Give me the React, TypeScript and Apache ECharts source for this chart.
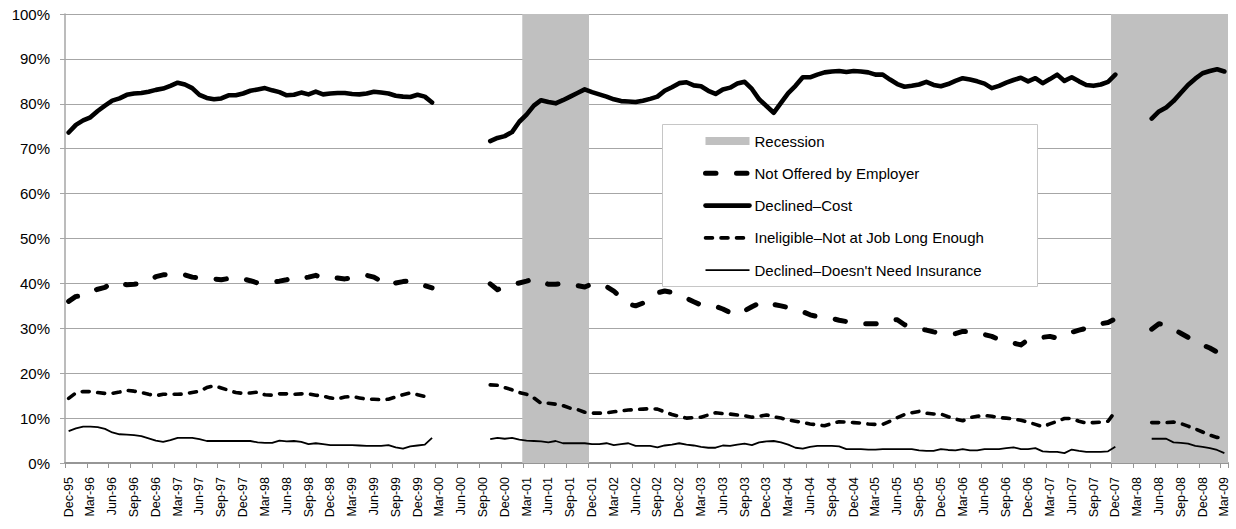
import { useEffect, useRef } from 'react';
import * as echarts from 'echarts';

const MONTH_NAMES = ['Jan', 'Feb', 'Mar', 'Apr', 'May', 'Jun', 'Jul', 'Aug', 'Sep', 'Oct', 'Nov', 'Dec'];
const FIRST_YEAR = 1995;
const FIRST_MONTH_INDEX = 11; // Dec
const LAST_MONTH = 'Mar-09';

function buildMonths(): string[] {
  const out: string[] = [];
  let y = FIRST_YEAR;
  let m = FIRST_MONTH_INDEX;
  for (let guard = 0; guard < 400; guard++) {
    const label = `${MONTH_NAMES[m]}-${String(y % 100).padStart(2, '0')}`;
    out.push(label);
    if (label === LAST_MONTH) break;
    m++;
    if (m > 11) { m = 0; y++; }
  }
  return out;
}
const categories = buildMonths();

// each series comes in three survey segments, starting at these months
const segmentStarts = ['Dec-95', 'Oct-00', 'May-08'];

const recessions: [string, string][] = [['Mar-01', 'Nov-01'], ['Dec-07', 'Mar-09']];

const yTicks = [0, 10, 20, 30, 40, 50, 60, 70, 80, 90, 100];

// ---- Declined–Cost (%)
const declinedCost1 = [
  73.6, 75.3, 76.3, 77.0, 78.4, 79.6, 80.7, 81.2, 82.0, 82.3,
  82.4, 82.7, 83.1, 83.4, 84.0, 84.7, 84.3, 83.5, 82.0, 81.3,
  81.0, 81.2, 81.9, 81.9, 82.3, 82.9, 83.2, 83.5, 83.0, 82.6,
  81.9, 82.0, 82.5, 82.1, 82.7, 82.1, 82.3, 82.4, 82.4, 82.2,
  82.1, 82.3, 82.7, 82.5, 82.3, 81.8, 81.6, 81.5, 82.0, 81.6,
  80.3,
];
const declinedCost2 = [
  71.7, 72.4, 72.8, 73.7, 76.0, 77.6, 79.6, 80.8, 80.4, 80.1,
  80.8, 81.6, 82.4, 83.2, 82.6, 82.1, 81.6, 81.0, 80.6, 80.5,
  80.4, 80.7, 81.1, 81.6, 82.9, 83.7, 84.6, 84.8, 84.1, 83.9,
  82.9, 82.2, 83.2, 83.6, 84.5, 84.9, 83.3, 81.0, 79.5, 78.0,
  80.2, 82.4, 84.0, 85.9, 85.9, 86.5, 87.0, 87.2, 87.3, 87.1,
  87.3, 87.2, 87.0, 86.5, 86.5, 85.4, 84.4, 83.8, 84.0, 84.3,
  84.9, 84.2, 83.9, 84.4, 85.1, 85.7, 85.4, 85.0, 84.5, 83.5,
  84.0, 84.7, 85.3, 85.8, 85.0, 85.7, 84.6, 85.5, 86.5, 85.1,
  85.9, 85.0, 84.2, 84.0, 84.3, 84.9, 86.5,
];
const declinedCost3 = [76.7, 78.3, 79.2, 80.6, 82.4, 84.2, 85.6, 86.8, 87.3, 87.7, 87.2];

// ---- Not Offered by Employer (%)
const notOffered1 = [
  36.0, 37.1, 37.2, 38.2, 38.7, 39.1, 40.2, 40.0, 39.7, 39.8,
  40.0, 40.5, 41.5, 41.9, 42.0, 42.2, 41.9, 41.4, 41.2, 41.2,
  41.0, 40.8, 41.1, 41.4, 41.0, 40.6, 40.1, 40.0, 40.3, 40.5,
  40.8, 41.4, 41.1, 41.4, 41.8, 41.2, 41.4, 41.2, 41.0, 41.3,
  41.7, 41.8, 41.4, 40.5, 39.5, 40.1, 40.4, 40.6, 40.2, 39.5,
  39.0,
];
const notOffered2 = [
  39.9, 38.6, 39.3, 39.7, 40.1, 40.5, 41.0, 40.5, 39.8, 39.8,
  40.0, 39.9, 39.5, 39.2, 39.9, 39.9, 39.3, 38.3, 36.8, 35.4,
  35.0, 35.6, 36.9, 37.9, 38.3, 38.0, 37.4, 36.7, 35.9, 35.2,
  34.9, 34.9, 34.3, 33.5, 33.0, 33.9, 34.8, 35.6, 36.0, 35.3,
  35.0, 34.6, 34.2, 33.7, 33.0, 32.6, 32.4, 32.2, 31.8, 31.5,
  31.2, 31.0, 31.0, 31.0, 31.3, 32.0, 31.9, 30.8, 30.1, 29.8,
  29.6, 29.2, 28.9, 28.9, 28.8, 29.3, 29.3, 29.1, 28.6, 28.2,
  27.5, 27.1, 26.7, 26.3, 27.5, 27.9, 28.0, 28.2, 27.8, 28.6,
  29.1, 29.6, 30.0, 30.8, 31.0, 31.3, 32.1,
];
const notOffered3 = [29.8, 31.0, 30.8, 29.8, 28.9, 28.0, 27.0, 26.3, 25.6, 24.7, 23.9];

// ---- Ineligible–Not at Job Long Enough (%)
const ineligible1 = [
  14.4, 15.6, 15.9, 15.9, 15.7, 15.5, 15.5, 15.8, 16.2, 16.0,
  15.7, 15.3, 15.0, 15.3, 15.3, 15.3, 15.4, 15.7, 16.0, 16.8,
  17.2, 16.7, 16.2, 15.7, 15.5, 15.6, 15.8, 15.2, 15.1, 15.4,
  15.4, 15.3, 15.4, 15.4, 15.1, 14.9, 14.5, 14.3, 14.7, 14.8,
  14.5, 14.2, 14.2, 14.1, 14.2, 14.7, 15.2, 15.6, 15.2, 14.8,
  15.0,
];
const ineligible2 = [
  17.4, 17.3, 16.8, 16.3, 15.7, 15.3, 14.5, 13.3, 13.3, 13.1,
  12.8, 12.2, 11.9, 11.3, 11.1, 11.1, 11.2, 11.4, 11.6, 11.8,
  11.9, 12.0, 12.1, 12.0, 11.4, 10.8, 10.4, 10.0, 10.1, 10.2,
  10.7, 11.2, 11.0, 10.9, 10.7, 10.5, 10.2, 10.4, 10.7, 10.3,
  10.0, 9.6, 9.3, 9.0, 8.7, 8.5, 8.3, 8.8, 9.2, 9.1,
  9.0, 8.9, 8.7, 8.6, 8.6, 9.3, 10.1, 10.8, 11.2, 11.5,
  11.1, 10.9, 10.9, 10.3, 9.8, 9.4, 10.1, 10.4, 10.6, 10.4,
  10.1, 10.0, 9.8, 9.5, 9.1, 8.6, 8.1, 8.7, 9.3, 9.9,
  9.9, 9.3, 8.9, 9.0, 9.1, 9.3, 11.5,
];
const ineligible3 = [9.0, 9.0, 9.0, 9.1, 8.8, 8.2, 7.6, 6.9, 6.2, 5.7, 5.6];

// ---- Declined–Doesn't Need Insurance (%)
const noNeed1 = [
  7.1, 7.7, 8.1, 8.1, 8.0, 7.6, 6.8, 6.4, 6.3, 6.2,
  6.0, 5.5, 5.0, 4.7, 5.1, 5.6, 5.6, 5.6, 5.3, 4.9,
  4.9, 4.9, 4.9, 4.9, 4.9, 4.9, 4.6, 4.5, 4.5, 5.0,
  4.8, 4.9, 4.7, 4.2, 4.4, 4.2, 4.0, 4.0, 4.0, 4.0,
  3.9, 3.8, 3.8, 3.8, 4.0, 3.5, 3.2, 3.7, 3.9, 4.1,
  5.6,
];
const noNeed2 = [
  5.3, 5.6, 5.4, 5.6, 5.2, 5.0, 4.9, 4.8, 4.6, 4.9,
  4.4, 4.4, 4.4, 4.4, 4.2, 4.2, 4.4, 4.0, 4.2, 4.4,
  3.8, 3.8, 3.8, 3.5, 3.9, 4.1, 4.4, 4.1, 3.9, 3.6,
  3.4, 3.4, 3.9, 3.8, 4.1, 4.3, 4.0, 4.6, 4.8, 4.9,
  4.6, 4.1, 3.4, 3.2, 3.6, 3.8, 3.8, 3.8, 3.7, 3.1,
  3.1, 3.1, 3.0, 3.0, 3.1, 3.1, 3.1, 3.1, 3.1, 2.8,
  2.7, 2.7, 3.1, 2.9, 2.8, 3.1, 2.8, 2.8, 3.1, 3.1,
  3.1, 3.3, 3.5, 3.1, 3.1, 3.3, 2.6, 2.5, 2.5, 2.2,
  3.0, 2.7, 2.5, 2.5, 2.5, 2.6, 3.6,
];
const noNeed3 = [5.4, 5.4, 5.4, 4.6, 4.5, 4.3, 3.8, 3.6, 3.3, 2.9, 2.2];

function assemble(segs: number[][]): (number | null)[] {
  const arr: (number | null)[] = categories.map(() => null);
  segs.forEach((seg, k) => {
    const start = categories.indexOf(segmentStarts[k]);
    seg.forEach((v, i) => { arr[start + i] = v; });
  });
  return arr;
}

const recessionData = categories.map((_, i) => {
  const inside = recessions.some(([a, b]) => i >= categories.indexOf(a) && i <= categories.indexOf(b));
  return inside ? 100 : null;
});

const FONT = "'Liberation Sans', Arial, sans-serif";
const GRID_GREY = '#a6a6a6';
const SHADE = '#c0c0c0';

const styles = {
  notOffered: { color: '#000', width: 5, type: [10.5, 20.5] as number[], cap: 'round', join: 'round' },
  cost: { color: '#000', width: 4.6, cap: 'round', join: 'round' },
  ineligible: { color: '#000', width: 3.6, type: [7, 8.5] as number[], cap: 'round', join: 'round' },
  noNeed: { color: '#000', width: 1.8, join: 'round' },
};

const hiddenSymbol = { color: 'transparent', opacity: 0, borderWidth: 0 };

export default function App() {
  const ref = useRef<HTMLDivElement>(null);

  useEffect(() => {
    if (!ref.current) return;
    const chart = echarts.init(ref.current, undefined, { renderer: 'svg' });
    chart.setOption({
      animation: false,
      backgroundColor: '#ffffff',
      textStyle: { fontFamily: FONT },
      grid: { left: 65, right: 8, top: 14, bottom: 66, containLabel: false },
      legend: {
        orient: 'vertical',
        left: 703,
        top: 133.5,
        padding: 0,
        itemWidth: 44,
        itemHeight: 8,
        itemGap: 17.3,
        selectedMode: false,
        z: 10,
        textStyle: { fontSize: 15, color: '#000', fontFamily: FONT },
        data: [
          { name: 'Recession', icon: 'rect', itemStyle: { color: SHADE, borderWidth: 0 } },
          { name: 'Not Offered by Employer', lineStyle: styles.notOffered, itemStyle: hiddenSymbol },
          { name: 'Declined–Cost', lineStyle: styles.cost, itemStyle: hiddenSymbol },
          { name: 'Ineligible–Not at Job Long Enough', lineStyle: styles.ineligible, itemStyle: hiddenSymbol },
          { name: "Declined–Doesn't Need Insurance", lineStyle: styles.noNeed, itemStyle: hiddenSymbol },
        ],
      },
      graphic: [
        {
          type: 'rect',
          z: 8,
          shape: { x: 662.5, y: 124.5, width: 375, height: 162 },
          style: { fill: '#ffffff', stroke: '#c6c6c6', lineWidth: 1 },
        },
      ],
      xAxis: {
        type: 'category',
        data: categories,
        boundaryGap: true,
        axisLine: { show: true, lineStyle: { color: '#969696', width: 2 } },
        axisTick: { show: true, interval: 2, length: 5, lineStyle: { color: '#969696', width: 1 } },
        axisLabel: {
          interval: 2,
          rotate: 90,
          margin: 14,
          fontSize: 12.5,
          color: '#000',
          fontFamily: FONT,
        },
        splitLine: { show: false },
      },
      yAxis: {
        type: 'value',
        min: yTicks[0],
        max: yTicks[yTicks.length - 1],
        interval: yTicks[1] - yTicks[0],
        axisLine: { show: true, lineStyle: { color: GRID_GREY, width: 1.5 } },
        axisTick: { show: true, length: 5, lineStyle: { color: GRID_GREY } },
        axisLabel: { formatter: '{value}%', fontSize: 15, color: '#000', margin: 15, fontFamily: FONT },
        splitLine: { show: true, lineStyle: { color: GRID_GREY, width: 1 } },
      },
      series: [
        {
          name: 'Recession',
          type: 'bar',
          data: recessionData,
          barWidth: 8.6,
          itemStyle: { color: SHADE, borderWidth: 0 },
          z: 1,
          silent: true,
        },
        {
          name: 'Not Offered by Employer',
          type: 'line',
          data: assemble([notOffered1, notOffered2, notOffered3]),
          symbol: 'none',
          connectNulls: false,
          z: 3,
          lineStyle: styles.notOffered,
          itemStyle: { color: '#000' },
        },
        {
          name: 'Declined–Cost',
          type: 'line',
          data: assemble([declinedCost1, declinedCost2, declinedCost3]),
          symbol: 'none',
          connectNulls: false,
          z: 3,
          lineStyle: styles.cost,
          itemStyle: { color: '#000' },
        },
        {
          name: 'Ineligible–Not at Job Long Enough',
          type: 'line',
          data: assemble([ineligible1, ineligible2, ineligible3]),
          symbol: 'none',
          connectNulls: false,
          z: 3,
          lineStyle: styles.ineligible,
          itemStyle: { color: '#000' },
        },
        {
          name: "Declined–Doesn't Need Insurance",
          type: 'line',
          data: assemble([noNeed1, noNeed2, noNeed3]),
          symbol: 'none',
          connectNulls: false,
          z: 3,
          lineStyle: styles.noNeed,
          itemStyle: { color: '#000' },
        },
      ],
    });
    return () => chart.dispose();
  }, []);

  return (
    <div
      ref={ref}
      style={{ position: 'fixed', left: 0, top: 0, width: 1236, height: 529, background: '#fff' }}
    />
  );
}
